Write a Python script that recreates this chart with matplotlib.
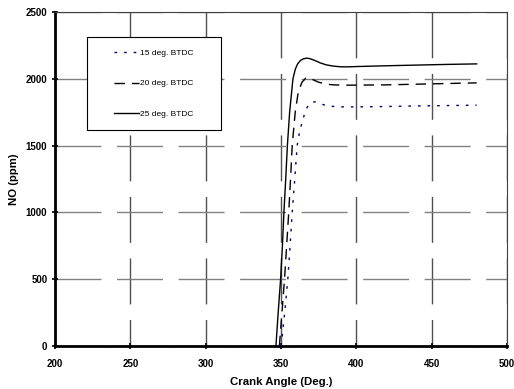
import matplotlib
matplotlib.use("Agg")
import matplotlib.pyplot as plt
from matplotlib.patches import Rectangle

plt.rcParams['font.family'] = ['Liberation Sans', 'DejaVu Sans']

# crank angle (deg) / NO (ppm)
ang15 = [350.2, 352.5, 354.6, 356.1, 357.5, 359.2, 360.8, 362.2, 363.5, 366.0, 368.0,
         370.5, 372.5, 376.0, 380.0, 386.0, 392.0, 400.0, 420.0, 440.0, 460.0, 480.0]
no15 = [0, 250, 500, 750, 1000, 1250, 1500, 1590, 1650, 1750, 1800,
        1825, 1828, 1815, 1800, 1792, 1790, 1790, 1793, 1797, 1800, 1803]

ang20 = [349.0, 350.7, 352.4, 353.8, 355.2, 356.4, 357.5, 359.5, 361.5, 364.0, 366.5,
         368.0, 371.0, 375.0, 380.0, 385.0, 390.0, 400.0, 420.0, 440.0, 460.0, 480.0]
no20 = [0, 250, 500, 750, 1000, 1250, 1500, 1750, 1900, 1975, 2005,
        2008, 1995, 1975, 1960, 1955, 1953, 1953, 1955, 1960, 1965, 1970]

ang25 = [346.7, 348.2, 349.8, 351.0, 352.0, 353.2, 354.3, 355.8, 358.0, 359.5, 361.0,
         363.0, 365.0, 367.0, 369.0, 372.0, 376.0, 380.0, 385.0, 390.0, 395.0, 400.0,
         410.0, 420.0, 440.0, 460.0, 480.0]
no25 = [0, 250, 500, 750, 1000, 1250, 1500, 1750, 2000, 2070, 2110,
        2138, 2150, 2155, 2152, 2140, 2120, 2105, 2095, 2090, 2090, 2092,
        2095, 2098, 2103, 2108, 2112]

labels = ['15 deg. BTDC', '20 deg. BTDC', '25 deg. BTDC']

fig = plt.figure(figsize=(5.14, 3.89), dpi=100)
ax = fig.add_axes([0.107, 0.1105, 0.879, 0.8585])

ax.plot(ang15, no15, color='#000080', lw=1.0, linestyle=(0, (1.9, 5.0)), label=labels[0], zorder=3)
ax.plot(ang20, no20, color='black', lw=1.0, linestyle=(0, (7.5, 5.0)), label=labels[1], zorder=3)
ax.plot(ang25, no25, color='black', lw=1.0, linestyle='-', label=labels[2], zorder=3)

ax.set_xlim(200, 500)
ax.set_ylim(0, 2500)
ax.set_xticks(range(200, 501, 50))
ax.set_yticks(range(0, 2501, 500))

# long-dash grid; vertical lines darker, dashes start at the top
ax.xaxis.grid(True, color='#505050', lw=1.0, linestyle=(14, (33.1, 11.2)))
ax.yaxis.grid(True, color='#808080', lw=1.0, linestyle=(0, (33.1, 11.2)))
ax.set_axisbelow(True)

for s in ['left', 'bottom']:
    ax.spines[s].set_linewidth(2.0)
for s in ['top', 'right']:
    ax.spines[s].set_linewidth(0.8)
    ax.spines[s].set_color('#404040')

ax.tick_params(direction='inout', length=5, width=1.2, labelsize=7)
ax.tick_params(axis='x', pad=6.5)
ax.tick_params(axis='y', pad=3)
for t in ax.get_xticklabels() + ax.get_yticklabels():
    t.set_fontweight('bold')

ax.set_xlabel('Crank Angle (Deg.)', fontsize=8.2, fontweight='bold', labelpad=6)
ax.set_ylabel('NO (ppm)', fontsize=8.2, fontweight='bold', labelpad=5)

# legend box
bx, by, bw, bh = 0.071, 0.647, 0.296, 0.278
ax.add_patch(Rectangle((bx, by), bw, bh, transform=ax.transAxes, facecolor='white',
                       edgecolor='black', lw=0.8, zorder=4))
leg = ax.legend(loc='center', bbox_to_anchor=(bx + bw / 2, by + bh / 2), frameon=False,
                fontsize=6, labelspacing=2.75, handlelength=3.0, handletextpad=0.15)
leg.set_zorder(5)

fig.savefig('out.png', dpi=100)
